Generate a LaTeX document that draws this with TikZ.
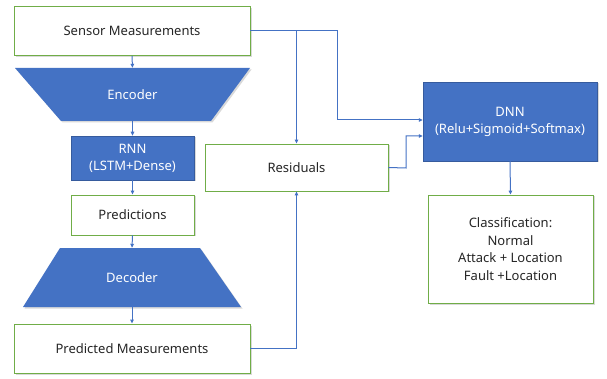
\documentclass[tikz,border=0pt]{standalone}
\usepackage{fontspec}
\setmainfont{Noto Sans}
\usetikzlibrary{arrows.meta,shadows,calc}
\definecolor{bluef}{HTML}{4472C4}
\definecolor{greenb}{HTML}{70AD47}
\definecolor{txt}{HTML}{262626}
\begin{document}
\begin{tikzpicture}[x=1pt,y=-1pt,
  shd/.style={drop shadow={shadow xshift=1.5pt,shadow yshift=-1.5pt,opacity=0.25,fill=black!60}},
  wbox/.style={draw=greenb,line width=0.8pt,fill=white,shd,text=txt,align=center,inner sep=0pt,font=\fontsize{13}{17.5}\selectfont},
  bbox/.style={draw=bluef!80!black,line width=0.5pt,fill=bluef,shd,text=white,align=center,inner sep=0pt,font=\fontsize{13}{17}\selectfont},
  tnode/.style={inner sep=0pt,text=white,font=\fontsize{13}{17}\selectfont},
  conn/.style={draw=bluef,line width=1pt,-{Triangle[length=4pt,width=3.5pt]}}]
\useasboundingbox (0,0) rectangle (607,379);
% white/blue boxes
\node[wbox,minimum width=236pt,minimum height=49pt] (sensor) at (132,31) {Sensor Measurements};
\node[bbox,minimum width=123pt,minimum height=44pt] (rnn) at (132.5,158) {RNN\\(LSTM+Dense)};
\node[wbox,minimum width=123pt,minimum height=40pt] (pred) at (132.5,215) {Predictions};
\node[wbox,minimum width=183pt,minimum height=47pt] (res) at (296.5,167.5) {Residuals};
\node[bbox,minimum width=174pt,minimum height=79pt] (dnn) at (510,121.5) {DNN\\(Relu+Sigmoid+Softmax)};
\node[wbox,minimum width=165pt,minimum height=108pt] (cls) at (510.5,249) {Classification:\\Normal\\Attack + Location\\Fault +Location};
\node[wbox,minimum width=236pt,minimum height=49pt] (predm) at (132,348.5) {Predicted Measurements};
% trapezoids
\fill[bluef,shd] (15,68) -- (250,68) -- (211,121) -- (61,121) -- cycle;
\node[tnode,minimum width=150pt,minimum height=53pt] (enc) at (132.5,94.5) {Encoder};
\fill[bluef,shd] (60,248) -- (200,248) -- (241,307) -- (23,307) -- cycle;
\node[tnode,minimum width=140pt,minimum height=59pt] (dec) at (132,277.5) {Decoder};
% connectors
\draw[conn] (sensor.south) -- (enc.north);
\draw[conn] (enc.south) -- (rnn.north);
\draw[conn] (rnn.south) -- (pred.north);
\draw[conn] (pred.south) -- (dec.north);
\draw[conn] (dec.south) -- (predm.north);
\draw[conn] (sensor.east) -| (res.north);
\coordinate (c1) at (337,31);
\draw[conn] (sensor.east) -- (c1) |- ([yshift=1.5pt]dnn.west);
\coordinate (c2) at (406,168);
\draw[conn] (res.east) -- (c2) |- ([yshift=-14.5pt]dnn.west);
\draw[conn] (predm.east) -| (res.south);
\draw[conn] (dnn.south) -- (cls.north);
\end{tikzpicture}
\end{document}
